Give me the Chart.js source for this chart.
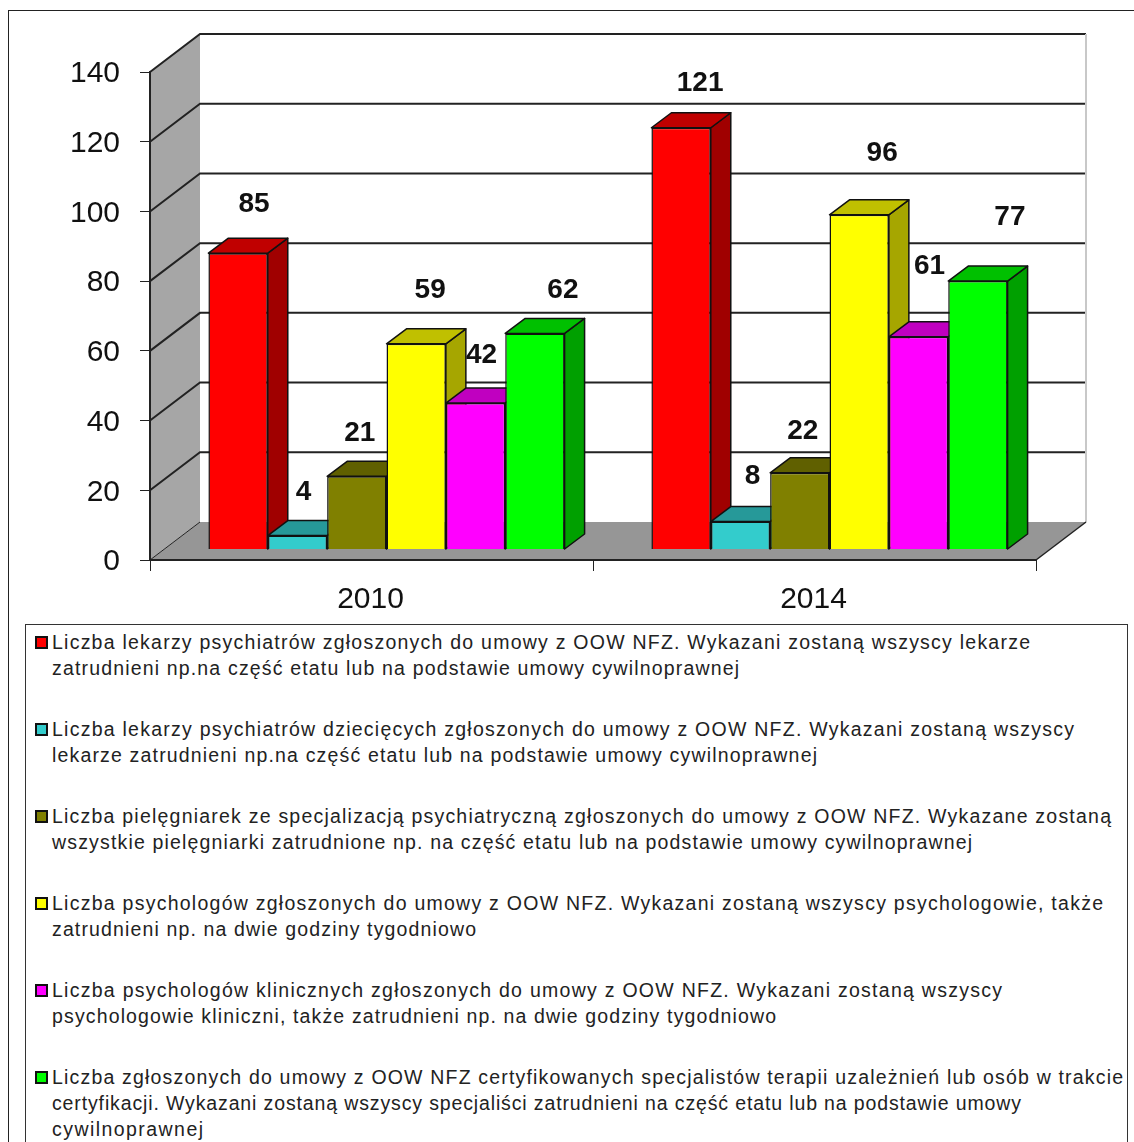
<!DOCTYPE html>
<html>
<head>
<meta charset="utf-8">
<script src="https://cdn.jsdelivr.net/npm/chart.js@4"></script>
<style>
  html, body { margin: 0; padding: 0; width: 1134px; height: 1142px; overflow: hidden; background: #fff; }
  #frame { position: absolute; left: 8px; top: 10px; width: 1126px; height: 1132px; border-left: 1.5px solid #222; border-top: 1.5px solid #222; box-sizing: border-box; }
  #myChart { position: absolute; left: 0; top: 0; }
  #legendBox { position: absolute; left: 25px; top: 624px; width: 1103px; height: 530px; border: 1.5px solid #333; box-sizing: border-box; }
  .legendLine { position: absolute; left: 52px; height: 26px; line-height: 26px; white-space: nowrap; font: 19.5px/26px "Liberation Sans", Arial, sans-serif; color: #222; }
  .legendMark { position: absolute; left: 35px; width: 13px; height: 13px; border: 2px solid #111; box-sizing: border-box; }
</style>
</head>
<body>
<div id="frame"></div>
<canvas id="myChart" width="1134" height="622"></canvas>
<div id="legendBox"></div>
<div id="legend"></div>
<script>
const categories = ['2010', '2014'];

const psychiatrists = [85, 121];
const childPsychiatrists = [4, 8];
const nurses = [21, 22];
const psychologists = [59, 96];
const clinicalPsychologists = [42, 61];
const addictionTherapists = [62, 77];

const seriesLines = [
  ['Liczba lekarzy psychiatrów zgłoszonych do umowy z OOW NFZ. Wykazani zostaną wszyscy lekarze',
   'zatrudnieni np.na część etatu lub na podstawie umowy cywilnoprawnej'],
  ['Liczba lekarzy psychiatrów dziecięcych zgłoszonych do umowy z OOW NFZ. Wykazani zostaną wszyscy',
   'lekarze zatrudnieni np.na część etatu lub na podstawie umowy cywilnoprawnej'],
  ['Liczba pielęgniarek ze specjalizacją psychiatryczną zgłoszonych do umowy z OOW NFZ. Wykazane zostaną',
   'wszystkie pielęgniarki zatrudnione np. na część etatu lub na podstawie umowy cywilnoprawnej'],
  ['Liczba psychologów zgłoszonych do umowy z OOW NFZ. Wykazani zostaną wszyscy psychologowie, także',
   'zatrudnieni np. na dwie godziny tygodniowo'],
  ['Liczba psychologów klinicznych zgłoszonych do umowy z OOW NFZ. Wykazani zostaną wszyscy',
   'psychologowie kliniczni, także zatrudnieni np. na dwie godziny tygodniowo'],
  ['Liczba zgłoszonych do umowy z OOW NFZ certyfikowanych specjalistów terapii uzależnień lub osób w trakcie',
   'certyfikacji. Wykazani zostaną wszyscy specjaliści zatrudnieni na część etatu lub na podstawie umowy',
   'cywilnoprawnej']
];

const seriesValues = [psychiatrists, childPsychiatrists, nurses, psychologists, clinicalPsychologists, addictionTherapists];

// front, side and top face colours
const frontColors = ['#ff0000', '#33cccc', '#808000', '#ffff00', '#ff00ff', '#00ff00'];
const sideColors = ['#a00000', '#209090', '#505000', '#a6a600', '#a000a0', '#00a000'];
const topColors = ['#c00000', '#269999', '#606000', '#c0c000', '#c000c0', '#00c000'];

// value labels sit away from their bars in the original
const labelNudgeX = [[16, 19], [6, 12], [3, 3], [14, 23], [6, 11], [28, 32]];
const labelNudgeY = [[49, 44], [43, 45], [43, 42], [54, 62], [48, 71], [43, 64]];

// right edge of every legend line in the picture
const lineRightEdges = [[1030, 739], [1074, 817], [1111, 972], [1103, 476], [1002, 776], [1123, 1021, 203]];

const wallDepth = { x: 50, y: -38 };
const barShift = { x: 15, y: -10.5 };
const barDepth = { x: 20, y: -15 };

function polygon(ctx, points, fill, stroke, width) {
  ctx.beginPath();
  points.forEach((p, i) => i ? ctx.lineTo(p[0], p[1]) : ctx.moveTo(p[0], p[1]));
  ctx.closePath();
  if (fill) { ctx.fillStyle = fill; ctx.fill(); }
  if (stroke) { ctx.strokeStyle = stroke; ctx.lineWidth = width; ctx.lineJoin = 'round'; ctx.stroke(); }
}

const wallsPlugin = {
  id: 'walls',
  beforeDraw(chart) {
    const { ctx, chartArea: a, scales: { y } } = chart;
    const dx = wallDepth.x, dy = wallDepth.y;
    const y0 = y.getPixelForValue(0);
    ctx.save();
    polygon(ctx, [[a.left, a.top], [a.left + dx, a.top + dy], [a.left + dx, y0 + dy], [a.left, y0]], '#a6a6a6');
    polygon(ctx, [[a.left, y0], [a.left + dx, y0 + dy], [a.right + dx, y0 + dy], [a.right, y0]], '#969696');
    y.ticks.forEach(t => {
      const py = y.getPixelForValue(t.value);
      ctx.strokeStyle = '#222';
      ctx.lineWidth = t.value === 0 ? 1 : 2;
      ctx.beginPath();
      ctx.moveTo(a.left, py);
      ctx.lineTo(a.left + dx, py + dy);
      if (t.value !== 0) {
        ctx.lineTo(a.right + dx, py + dy);
      }
      ctx.stroke();
    });
    // right edge of the back wall and of the floor
    ctx.strokeStyle = '#c8c8c8';
    ctx.lineWidth = 2;
    ctx.beginPath();
    ctx.moveTo(a.right + dx, a.top + dy);
    ctx.lineTo(a.right + dx, y0 + dy);
    ctx.stroke();
    ctx.strokeStyle = '#222';
    ctx.lineWidth = 1.5;
    ctx.beginPath();
    ctx.moveTo(a.right, y0);
    ctx.lineTo(a.right + dx, y0 + dy);
    ctx.stroke();
    ctx.restore();
  }
};

// draws the bars left to right with their faces, instead of the default last-to-first
const bars3dPlugin = {
  id: 'bars3d',
  beforeDatasetsDraw(chart) {
    const ctx = chart.ctx;
    const dx = barDepth.x, dy = barDepth.y;
    ctx.save();
    ctx.translate(barShift.x, barShift.y);
    chart.data.datasets.forEach((ds, i) => {
      chart.getDatasetMeta(i).data.forEach(bar => {
        const p = bar.getProps(['x', 'y', 'base', 'width']);
        const l = p.x - p.width / 2, r = p.x + p.width / 2;
        polygon(ctx, [[r, p.y], [r + dx, p.y + dy], [r + dx, p.base + dy], [r, p.base]], sideColors[i], '#111', 1.5);
        polygon(ctx, [[l, p.y], [l + dx, p.y + dy], [r + dx, p.y + dy], [r, p.y]], topColors[i], '#111', 1.5);
        bar.draw(ctx);
      });
    });
    ctx.restore();

    ctx.save();
    ctx.font = 'bold 28px "Liberation Sans", Arial, sans-serif';
    ctx.fillStyle = '#111';
    ctx.textAlign = 'center';
    ctx.textBaseline = 'middle';
    chart.data.datasets.forEach((ds, i) => {
      chart.getDatasetMeta(i).data.forEach((bar, j) => {
        const p = bar.getProps(['x', 'y']);
        ctx.fillText(ds.data[j], p.x + barShift.x + labelNudgeX[i][j], p.y + barShift.y - labelNudgeY[i][j]);
      });
    });
    ctx.restore();
    return false;
  }
};

function buildLegend() {
  const holder = document.getElementById('legend');
  const measure = document.createElement('canvas').getContext('2d');
  measure.font = '19.5px "Liberation Sans", Arial, sans-serif';
  seriesLines.forEach((lines, i) => {
    const firstY = 629 + i * 87;
    const mark = document.createElement('div');
    mark.className = 'legendMark';
    mark.style.top = (firstY + 7) + 'px';
    mark.style.background = frontColors[i];
    holder.appendChild(mark);
    lines.forEach((text, k) => {
      const line = document.createElement('div');
      line.className = 'legendLine';
      line.textContent = text;
      line.style.top = (firstY + k * 26) + 'px';
      const target = lineRightEdges[i][k] - 52;
      line.style.letterSpacing = ((target - measure.measureText(text).width) / (text.length - 1)).toFixed(3) + 'px';
      holder.appendChild(line);
    });
  });
}

document.addEventListener('DOMContentLoaded', function () {
  const ctx = document.getElementById('myChart').getContext('2d');
  new Chart(ctx, {
    type: 'bar',
    data: {
      labels: categories,
      datasets: seriesValues.map((values, i) => ({
        label: seriesLines[i].join(' '),
        data: values,
        backgroundColor: frontColors[i],
        borderColor: '#111',
        borderWidth: 1.5
      }))
    },
    options: {
      responsive: false,
      animation: false,
      layout: { padding: { top: 72, right: 98, left: 0, bottom: 0 } },
      plugins: { legend: { display: false }, tooltip: { enabled: false } },
      datasets: { bar: { categoryPercentage: 0.804, barPercentage: 1 } },
      scales: {
        x: {
          afterFit: scale => { scale.height = 62; },
          grid: { drawOnChartArea: false, tickLength: 11, color: '#222' },
          border: { color: '#222', width: 2 },
          ticks: { color: '#111', padding: 11, labelOffset: -1, font: { size: 30, family: '"Liberation Sans", Arial, sans-serif' } }
        },
        y: {
          min: 0,
          max: 140,
          afterFit: scale => { scale.width = 150; },
          grid: { drawOnChartArea: false, tickLength: 10, color: '#222' },
          border: { color: '#222', width: 2 },
          ticks: { stepSize: 20, color: '#111', padding: 20, labelOffset: 2, font: { size: 30, family: '"Liberation Sans", Arial, sans-serif' } }
        }
      }
    },
    plugins: [wallsPlugin, bars3dPlugin]
  });
  buildLegend();
});
</script>
</body>
</html>
